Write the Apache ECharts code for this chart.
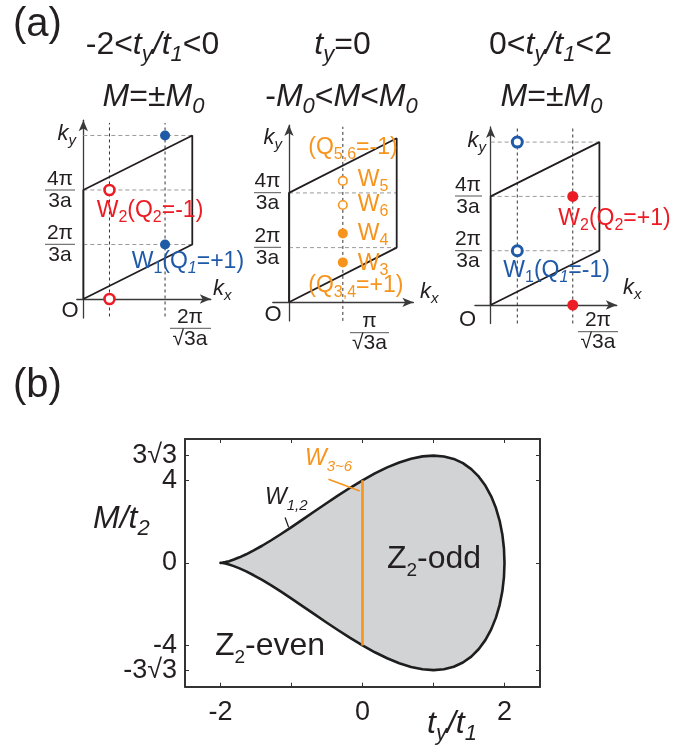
<!DOCTYPE html>
<html><head><meta charset="utf-8">
<script src="https://cdn.jsdelivr.net/npm/echarts@6/dist/echarts.min.js"></script>
<style>html,body{margin:0;padding:0;background:#fff}#c{width:697px;height:754px}</style>
</head><body><div id="c"></div>
<script>
// ---------- DATA ----------
// unit cell (kx in 2π/√3a, ky in 2π/3a)
const cellKx = [0, 1, 1, 0, 0];
const cellKy = [0, 1, 3, 2, 0];
// left panel: -2<ty/t1<0
const leftW1Kx = [0.75, 0.75];  const leftW1Ky = [1, 3];   // blue filled
const leftW2Kx = [0.24, 0.24];  const leftW2Ky = [0, 2];   // red open
const leftGuideKx = [0.24, 0.75];
const leftGuideKy = [1, 2, 3];
// middle panel: ty=0
const midFilledKx = [0.5, 0.5]; const midFilledKy = [0.73, 1.26];
const midOpenKx = [0.5, 0.5];   const midOpenKy = [1.78, 2.22];
const midGuideKx = [0.5];
const midGuideKy = [1, 2];
// right panel: 0<ty/t1<2
const rightW1Kx = [0.245, 0.245]; const rightW1Ky = [1, 3]; // blue open
const rightW2Kx = [0.755, 0.755]; const rightW2Ky = [0, 2]; // red filled
const rightGuideKx = [0.245, 0.755];
const rightGuideKy = [1, 2, 3];
// panel (b): phase boundary
const tyBoundary = [2, 1.9924, 1.9696, 1.9319, 1.8794, 1.8126, 1.7321, 1.6383, 1.5321, 1.4142, 1.2856, 1.1472, 1, 0.8452, 0.6840, 0.5176, 0.3473, 0.1743, 0, -0.1743, -0.3473, -0.5176, -0.6840, -0.8452, -1, -1.1472, -1.2856, -1.4142, -1.5321, -1.6383, -1.7321, -1.8126, -1.8794, -1.9319, -1.9696, -1.9924, -2];
const mUpper = [0, 0.6959, 1.3786, 2.0353, 2.6537, 3.2226, 3.7321, 4.1737, 4.5408, 4.8284, 5.0338, 5.1560, 5.1962, 5.1573, 5.0444, 4.8637, 4.6232, 4.3321, 4, 3.6375, 3.2552, 2.8637, 2.4732, 2.0931, 1.7321, 1.3972, 1.0946, 0.8284, 0.6016, 0.4149, 0.2679, 0.1584, 0.0825, 0.0353, 0.0106, 0.0013, 0];
const mLower = [0, -0.6959, -1.3786, -2.0353, -2.6537, -3.2226, -3.7321, -4.1737, -4.5408, -4.8284, -5.0338, -5.1560, -5.1962, -5.1573, -5.0444, -4.8637, -4.6232, -4.3321, -4, -3.6375, -3.2552, -2.8637, -2.4732, -2.0931, -1.7321, -1.3972, -1.0946, -0.8284, -0.6016, -0.4149, -0.2679, -0.1584, -0.0825, -0.0353, -0.0106, -0.0013, 0];
const orangeTy = [0, 0];
const orangeM = [-4, 4];
const w36LeaderTy = [-0.479, -0.038]; const w36LeaderM = [4.05, 3.48];
const w12LeaderTy = [-1.09, -1.04];   const w12LeaderM = [2.20, 1.72];
const xTicks = [-2, -1, 0, 1, 2];
const xTickLabels = [-2, 0, 2];
const yTicks = [-5.196, -4, 0, 4, 5.196];
const yTickLabelsInt = [-4, 0, 4];
const yTickLabelsRoot = [-5.196, 5.196];
const yRootText = ['-3√3', '3√3'];

// ---------- STYLE ----------
const FF = '"Liberation Sans", Arial, Helvetica, sans-serif';
const BLACK = '#231f20', RED = '#ec1c24', BLUE = '#1f5aa8', ORANGE = '#f7941d';
const zip = (a, b) => a.map((v, i) => [v, b[i]]);

const panels = [
  {grid: {left: 76.8, top: 120.2, width: 134, height: 197.9}, x: [-0.06, 1.17], y: [-0.35, 3.28], vy: [-0.32, 3.23],
   gKx: leftGuideKx, gKy: leftGuideKy,
   pts: [{kx: leftW1Kx, ky: leftW1Ky, c: BLUE, open: false, s: 10},
         {kx: leftW2Kx, ky: leftW2Ky, c: RED, open: true, s: 10, b: 2.6}]},
  {grid: {left: 272.8, top: 125.1, width: 140.6, height: 195.8}, x: [-0.15, 1.155], y: [-0.34, 3.24], vy: [-0.34, 3.21],
   gKx: midGuideKx, gKy: midGuideKy,
   pts: [{kx: midFilledKx, ky: midFilledKy, c: ORANGE, open: false, s: 10},
         {kx: midOpenKx, ky: midOpenKy, c: ORANGE, open: true, s: 8.5, b: 1.6}]},
  {grid: {left: 474.9, top: 126.9, width: 141.9, height: 196.6}, x: [-0.145, 1.16], y: [-0.34, 3.28], vy: [-0.34, 3.31],
   gKx: rightGuideKx, gKy: rightGuideKy,
   pts: [{kx: rightW1Kx, ky: rightW1Ky, c: BLUE, open: true, s: 10, b: 3},
         {kx: rightW2Kx, ky: rightW2Ky, c: RED, open: false, s: 11}]}
];

const grids = [], xAxes = [], yAxes = [], series = [];
const cellMin = Math.min(...cellKx), cellMax = Math.max(...cellKx);
panels.forEach((p, gi) => {
  grids.push(p.grid);
  const axLine = {show: true, onZero: true, symbol: ['none', 'arrow'], symbolSize: [7, 11],
                  lineStyle: {color: '#3a3a3a', width: 1.3}};
  xAxes.push({gridIndex: gi, type: 'value', min: p.x[0], max: p.x[1], axisLine: axLine,
              axisTick: {show: false}, axisLabel: {show: false}, splitLine: {show: false}});
  yAxes.push({gridIndex: gi, type: 'value', min: p.y[0], max: p.y[1], axisLine: axLine,
              axisTick: {show: false}, axisLabel: {show: false}, splitLine: {show: false}});
  p.gKy.forEach(ky => series.push({type: 'line', xAxisIndex: gi, yAxisIndex: gi, symbol: 'none', silent: true, z: 2,
    data: [[cellMin, ky], [cellMax, ky]], lineStyle: {color: '#9a9a9a', width: 1, type: [4, 3]}}));
  p.gKx.forEach(kx => series.push({type: 'line', xAxisIndex: gi, yAxisIndex: gi, symbol: 'none', silent: true, z: 2,
    data: [[kx, p.vy[0]], [kx, p.vy[1]]], lineStyle: {color: '#333', width: 1, type: [3, 3]}}));
  series.push({type: 'line', xAxisIndex: gi, yAxisIndex: gi, symbol: 'none', silent: true, z: 3,
    data: zip(cellKx, cellKy), lineStyle: {color: BLACK, width: 1.8}});
  p.pts.forEach(q => series.push({type: 'scatter', xAxisIndex: gi, yAxisIndex: gi, silent: true, z: 5,
    symbol: 'circle', symbolSize: q.s, data: zip(q.kx, q.ky),
    itemStyle: q.open ? {color: '#fff', borderColor: q.c, borderWidth: q.b, opacity: 1} : {color: q.c, opacity: 1}}));
});

// panel (b)
grids.push({left: 185, top: 439, width: 355, height: 247.7});
const bAxisLine = {show: true, onZero: false, lineStyle: {color: '#333', width: 2}};
const lblStyle = {fontSize: 27, color: BLACK, fontFamily: FF, hideOverlap: false, lineHeight: 20};
const tickStyle = {show: true, inside: true, length: 4, lineStyle: {color: '#333', width: 1}};
xAxes.push({gridIndex: 3, type: 'value', min: -2.5, max: 2.5, position: 'bottom', axisLine: bAxisLine,
  axisTick: Object.assign({customValues: xTicks}, tickStyle),
  axisLabel: Object.assign({customValues: xTickLabels, margin: 16, formatter: v => String(v)}, lblStyle),
  splitLine: {show: false}});
xAxes.push({gridIndex: 3, type: 'value', min: -2.5, max: 2.5, position: 'top', axisLine: bAxisLine,
  axisTick: Object.assign({customValues: xTicks}, tickStyle),
  axisLabel: {show: false}, splitLine: {show: false}});
// y axis with integer labels (3), right axis (4), extra left axis carrying the ±3√3 labels (5)
yAxes.push({gridIndex: 3, type: 'value', min: -6, max: 6, position: 'left', axisLine: bAxisLine,
  axisTick: Object.assign({customValues: yTicks}, tickStyle),
  axisLabel: Object.assign({customValues: yTickLabelsInt, margin: 8, formatter: v => String(v)}, lblStyle),
  splitLine: {show: false}});
yAxes.push({gridIndex: 3, type: 'value', min: -6, max: 6, position: 'right', axisLine: bAxisLine,
  axisTick: Object.assign({customValues: yTicks}, tickStyle),
  axisLabel: {show: false}, splitLine: {show: false}});
yAxes.push({gridIndex: 3, type: 'value', min: -6, max: 6, position: 'left', offset: 0,
  axisLine: {show: false, onZero: false}, axisTick: {show: false},
  axisLabel: Object.assign({customValues: yTickLabelsRoot, margin: 8,
    formatter: v => (v < 0 ? yRootText[0] : yRootText[1])}, lblStyle),
  splitLine: {show: false}});

series.push({type: 'custom', xAxisIndex: 3, yAxisIndex: 3, silent: true, z: 2, data: [[0, 0]],
  renderItem: (params, api) => {
    const pts = [];
    for (let i = 0; i < tyBoundary.length; i++) pts.push(api.coord([tyBoundary[i], mUpper[i]]));
    for (let i = tyBoundary.length - 1; i >= 0; i--) pts.push(api.coord([tyBoundary[i], mLower[i]]));
    return {type: 'polygon', shape: {points: pts},
            style: {fill: '#d1d3d4', stroke: '#1e1e1e', lineWidth: 2.6, lineJoin: 'round'}};
  }});
series.push({type: 'line', xAxisIndex: 3, yAxisIndex: 3, symbol: 'none', silent: true, z: 4,
  data: zip(orangeTy, orangeM), lineStyle: {color: ORANGE, width: 2.6}});
series.push({type: 'line', xAxisIndex: 3, yAxisIndex: 3, symbol: 'none', silent: true, z: 4,
  data: zip(w36LeaderTy, w36LeaderM), lineStyle: {color: ORANGE, width: 1.6}});
series.push({type: 'line', xAxisIndex: 3, yAxisIndex: 3, symbol: 'none', silent: true, z: 4,
  data: zip(w12LeaderTy, w12LeaderM), lineStyle: {color: BLACK, width: 1.3}});

// ---------- TEXT ----------
function rt(x, y, text, size, color, align, subRatio) {
  const sr = subRatio || 0.7;
  const sub = Math.round(size * sr);
  const L = Math.round(size * 1.3);
  const slh = Math.round(sub * 0.7);
  return {type: 'text', x: x, y: y, z: 100, silent: true,
    style: {text: text, fill: color, fontSize: size, fontFamily: FF, align: align || 'left', verticalAlign: 'middle',
      rich: {
        n: {fontSize: size, fontFamily: FF, lineHeight: L},
        i: {fontSize: size, fontFamily: FF, fontStyle: 'italic', lineHeight: L},
        s: {fontSize: sub, fontFamily: FF, lineHeight: slh, verticalAlign: 'bottom'},
        si: {fontSize: sub, fontFamily: FF, fontStyle: 'italic', lineHeight: slh, verticalAlign: 'bottom'}
      }}};
}
function bar(x1, x2, y) {
  return {type: 'line', z: 100, silent: true, shape: {x1: x1, y1: y, x2: x2, y2: y}, style: {stroke: '#555', lineWidth: 1}};
}
function frac(cx, yb, num, den, x1, x2, size) {
  return [rt(cx, yb - 11, '{n|' + num + '}', size, BLACK, 'center'), bar(x1, x2, yb),
          rt(cx, yb + 11, '{n|' + den + '}', size, BLACK, 'center')];
}
const g = [];
g.push(rt(13, 25, '{n|(a)}', 40, BLACK, 'left'));
g.push(rt(152.5, 45, '{n|-2<}{i|t}{si|y}{i|/t}{si|1}{n|<0}', 32, BLACK, 'center'));
g.push(rt(153.5, 97, '{i|M}{n|=±}{i|M}{si|0}', 32, BLACK, 'center'));
g.push(rt(342.5, 45, '{i|t}{si|y}{n|=0}', 32, BLACK, 'center'));
g.push(rt(341.5, 97, '{n|-}{i|M}{si|0}{n|<}{i|M}{n|<}{i|M}{si|0}', 32, BLACK, 'center'));
g.push(rt(550.5, 45, '{n|0<}{i|t}{si|y}{i|/t}{si|1}{n|<2}', 32, BLACK, 'center'));
g.push(rt(551.5, 97, '{i|M}{n|=±}{i|M}{si|0}', 32, BLACK, 'center'));
// left panel labels
g.push(rt(76, 134, '{i|k}{si|y}', 22, BLACK, 'right'));
g.push(...frac(60, 190, '4π', '3a', 45, 75, 21));
g.push(...frac(60, 244.3, '2π', '3a', 45, 75, 21));
g.push(rt(70, 310.5, '{n|O}', 22, BLACK, 'center'));
g.push(rt(213, 289, '{i|k}{si|x}', 22, BLACK, 'left'));
g.push(...frac(190, 328.3, '2π', '√3a', 170, 211, 21));
g.push(rt(96.7, 211, '{n|W}{s|2}{n|(Q}{s|2}{n|=-1)}', 23, RED, 'left'));
g.push(rt(131.7, 262, '{n|W}{s|1}{n|(Q}{si|1}{n|=+1)}', 23, BLUE, 'left'));
// middle panel labels
g.push(rt(282, 137.5, '{i|k}{si|y}', 22, BLACK, 'right'));
g.push(...frac(267.5, 192.7, '4π', '3a', 254, 281, 21));
g.push(...frac(267.5, 247.3, '2π', '3a', 254, 281, 21));
g.push(rt(273, 315, '{n|O}', 22, BLACK, 'center'));
g.push(rt(420, 291.5, '{i|k}{si|x}', 22, BLACK, 'left'));
g.push(...frac(369.5, 332.7, 'π', '√3a', 350, 389, 21));
g.push(rt(308.3, 148, '{n|(Q}{s|5,6}{n|=-1)}', 23, ORANGE, 'left'));
g.push(rt(357.7, 180, '{n|W}{s|5}', 23, ORANGE, 'left'));
g.push(rt(357.7, 204.5, '{n|W}{s|6}', 23, ORANGE, 'left'));
g.push(rt(357.7, 233.7, '{n|W}{s|4}', 23, ORANGE, 'left'));
g.push(rt(357.7, 263.7, '{n|W}{s|3}', 23, ORANGE, 'left'));
g.push(rt(308.3, 286, '{n|(Q}{s|3,4}{n|=+1)}', 23, ORANGE, 'left'));
// right panel labels
g.push(rt(486, 140.5, '{i|k}{si|y}', 22, BLACK, 'right'));
g.push(...frac(468, 196, '4π', '3a', 455, 482, 21));
g.push(...frac(468, 250.7, '2π', '3a', 455, 482, 21));
g.push(rt(467.5, 320, '{n|O}', 22, BLACK, 'center'));
g.push(rt(623, 287.5, '{i|k}{si|x}', 22, BLACK, 'left'));
g.push(...frac(598, 331.7, '2π', '√3a', 578, 618, 21));
g.push(rt(558.3, 219, '{n|W}{s|2}{n|(Q}{s|2}{n|=+1)}', 23, RED, 'left'));
g.push(rt(503.3, 271, '{n|W}{s|1}{n|(Q}{si|1}{n|=-1)}', 23, BLUE, 'left'));
// panel (b) labels
g.push(rt(13, 385.6, '{n|(b)}', 40, BLACK, 'left'));
g.push(rt(93, 519, '{i|M/t}{si|2}', 32, BLACK, 'left'));
g.push(rt(427, 724, '{i|t}{si|y}{i|/t}{si|1}', 32, BLACK, 'left'));
g.push(rt(387, 559, '{n|Z}{s|2}{n|-odd}', 32, BLACK, 'left', 0.58));
g.push(rt(215, 646, '{n|Z}{s|2}{n|-even}', 32, BLACK, 'left', 0.58));
g.push(rt(305, 459, '{i|W}{si|3~6}', 23, ORANGE, 'left', 0.65));
g.push(rt(265, 498, '{i|W}{si|1,2}', 23, BLACK, 'left', 0.65));

const chart = echarts.init(document.getElementById('c'), null, {renderer: 'canvas'});
chart.setOption({
  animation: false,
  backgroundColor: '#fff',
  grid: grids, xAxis: xAxes, yAxis: yAxes, series: series, graphic: {elements: g}
});
</script></body></html>
